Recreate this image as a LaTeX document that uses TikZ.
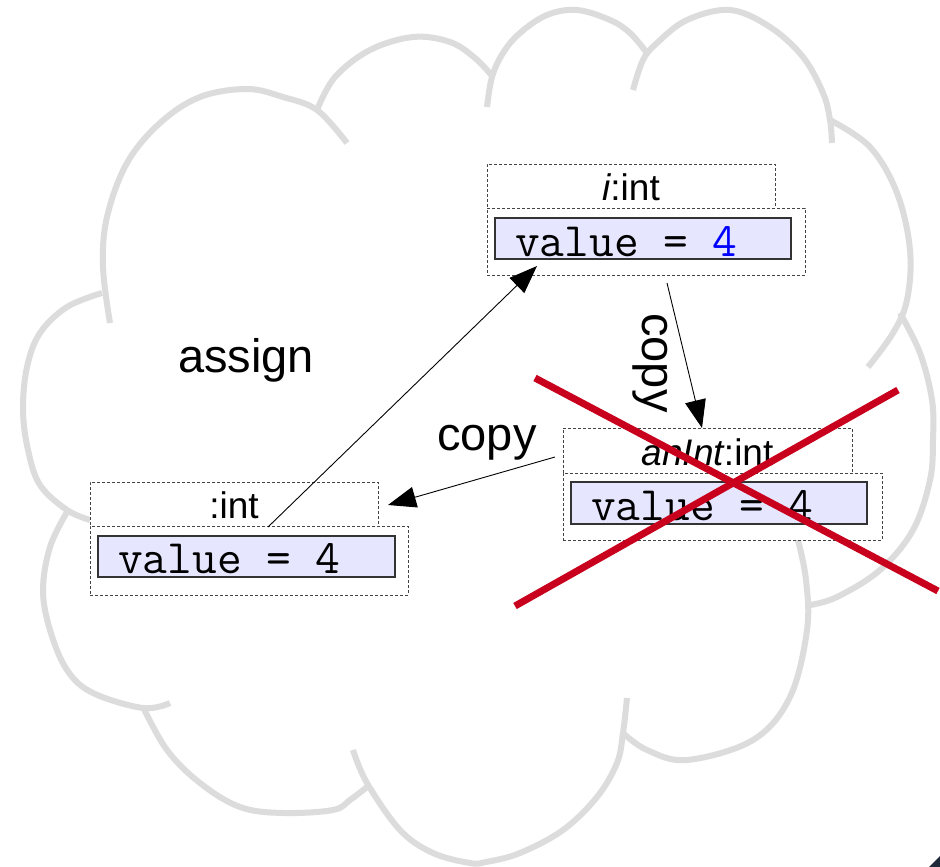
\documentclass[tikz,border=0pt]{standalone}
\usepackage{fontspec}
\setmainfont{Liberation Sans}
\usetikzlibrary{arrows.meta,calc}
\definecolor{cloudgray}{HTML}{DCDCDC}
\definecolor{fillblue}{HTML}{E6E6FF}
\definecolor{xred}{HTML}{C8001E}
\definecolor{boxline}{HTML}{444444}
\definecolor{cornerdark}{HTML}{1E2A3A}
\definecolor{valblue}{HTML}{0000FF}
\begin{document}
\begin{tikzpicture}[x=1pt,y=-1pt,
  cloud/.style={draw=cloudgray,line width=6pt},
  objbox/.style={draw=boxline,dash pattern=on 3pt off 2pt,line width=1pt,fill=white,inner sep=0pt,outer sep=0pt},
  valbox/.style={draw=black!80,fill=fillblue,line width=1.2pt,inner sep=0pt,outer sep=0pt},
  title/.style={font=\fontsize{37}{40}\selectfont,anchor=base,inner sep=0pt},
  valtext/.style={font=\fontsize{48}{50}\selectfont\ttfamily,anchor=base west,inner sep=0pt},
  lbl/.style={font=\fontsize{47}{50}\selectfont,inner sep=0pt},
  arr/.style={line width=0.9pt,-{Triangle[length=28pt,width=21pt]}},
  cross/.style={draw=xred,line width=7pt}]
\useasboundingbox (0,0) rectangle (940,867);
\fill[white] (0,0) rectangle (940,867);

% cloud lobes
\draw[cloud] plot[smooth,tension=0.6] coordinates {(110,323) (103,267) (107,217) (127,163) (160,123) (200,97) (247,89) (283,97) (317,110) (347,143)};
\draw[cloud] plot[smooth,tension=0.6] coordinates {(317,110) (335,77) (370,50) (413,37) (450,42) (475,58) (493,77)};
\draw[cloud] plot[smooth,tension=0.6] coordinates {(487,107) (492,77) (503,53) (520,33) (547,15) (577,10) (610,20) (630,33) (647,53)};
\draw[cloud] plot[smooth,tension=0.6] coordinates {(633,90) (643,60) (657,43) (687,20) (730,10) (770,27) (803,57) (823,93) (830,120) (832,143)};
\draw[cloud] plot[smooth,tension=0.6] coordinates {(830,120) (870,147) (897,193) (910,250) (907,300) (893,333) (868,367)};
\draw[cloud] plot[smooth,tension=0.6] coordinates {(900,313) (920,353) (932,400) (933,440) (930,480) (913,530) (880,570) (837,597) (810,605)};
\draw[cloud] plot[smooth,tension=0.6] coordinates {(798,540) (806,580) (807,630) (790,697) (753,740) (687,760) (647,750) (623,733)};
\draw[cloud] plot[smooth,tension=0.6] coordinates {(627,698) (623,733) (617,763) (597,797) (563,830) (520,853) (486,862) (470,863) (433,853) (400,830) (367,783) (353,750)};
\draw[cloud] plot[smooth,tension=0.6] coordinates {(143,707) (167,750) (200,783) (240,807) (283,813) (333,810) (350,800) (367,787)};
\draw[cloud] plot[smooth,tension=0.6] coordinates {(67,512) (50,547) (43,590) (50,630) (67,670) (93,693) (143,708) (170,703)};
\draw[cloud] plot[smooth,tension=0.6] coordinates {(102,293) (67,307) (40,333) (27,367) (23,410) (28,450) (40,485) (67,510) (90,520)};

% object i:int
\node[objbox,minimum width=288pt,minimum height=44pt] (ititle) at (631,186) {};
\node[objbox,minimum width=318pt,minimum height=67pt] (ibody) at (646,241.5) {};
\node[valbox,minimum width=296pt,minimum height=41pt] (ival) at (643,238.5) {};
\node[title] (ititletext) at ($(ititle.south)+(0,-8)$) {\itshape i\upshape:int};
\node[valtext] (ivaltext) at ($(ival.south west)+(20,-3)$) {value = \textcolor{valblue}{4}};

% object anInt:int
\node[objbox,minimum width=289pt,minimum height=45pt] (atitle) at (707.5,450.5) {};
\node[objbox,minimum width=319pt,minimum height=67pt] (abody) at (722.5,506.5) {};
\node[valbox,minimum width=296pt,minimum height=42pt] (aval) at (719,503) {};
\node[title] (atitletext) at ($(atitle.south)+(0,-8)$) {\itshape anInt\upshape:int};
\node[valtext] (avaltext) at ($(aval.south west)+(20,-4)$) {value = 4};

% object :int
\node[objbox,minimum width=288pt,minimum height=44pt] (utitle) at (234,504) {};
\node[objbox,minimum width=318pt,minimum height=69pt] (ubody) at (249,560.5) {};
\node[valbox,minimum width=297pt,minimum height=41pt] (uval) at (246.5,556.5) {};
\node[title] (utitletext) at ($(utitle.south)+(0,-8)$) {:int};
\node[valtext] (uvaltext) at ($(uval.south west)+(20,-4)$) {value = 4};

% labels
\node[lbl,anchor=base] (assignlbl) at (246,372) {assign};
\node[lbl,anchor=base] (copylbl) at (487,450) {copy};
\node[lbl,rotate=-90] (copyvlbl) at (650,363) {copy};

% connectors
\coordinate (asrc) at ($(uval.north west)+(170,-9)$);
\coordinate (atip) at ($(ibody.south west)+(50,-9)$);
\coordinate (c1src) at ($(ibody.south west)+(180,8)$);
\coordinate (c1tip) at ($(atitle.north west)+(139,0)$);
\coordinate (c2src) at ($(atitle.west)+(-8,6.5)$);
\coordinate (c2tip) at ($(utitle.east)+(10,1)$);
\draw[arr] (asrc) -- (atip);
\draw[arr] (c1src) -- (c1tip);
\draw[arr] (c2src) -- (c2tip);

% red cross
\draw[cross] (535,378) -- (938,591);
\draw[cross] (515,606) -- (898,390);

% corner artifact
\fill[cornerdark] (929,867) -- (940,856) -- (940,867) -- cycle;
\end{tikzpicture}
\end{document}
